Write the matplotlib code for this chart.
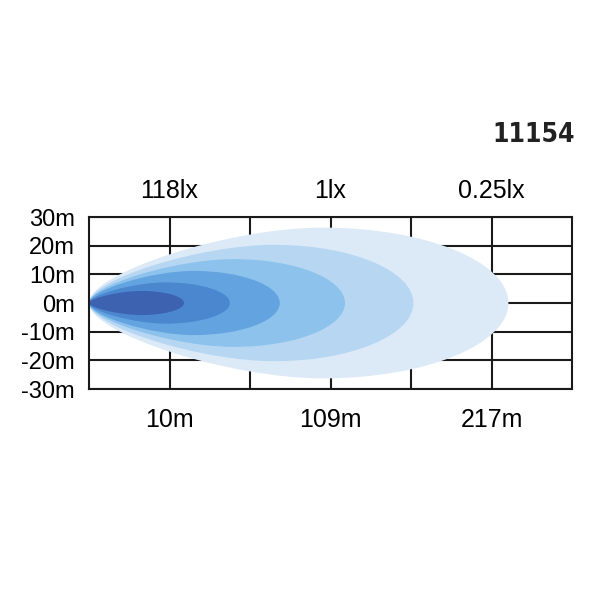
import matplotlib
matplotlib.use("Agg")
import matplotlib.pyplot as plt
from matplotlib.path import Path
from matplotlib.patches import PathPatch

# beam layers, outer to inner: reach (grid columns), max half width (m), where the max is (columns)
reach = [5.21, 4.03, 3.18, 2.37, 1.75, 1.18]
half_width = [26.3, 20.3, 15.3, 11.2, 7.2, 4.2]
widest_at = [2.9, 2.3, 1.8, 1.3, 0.95, 0.65]
colors = ["#dceaf8", "#b6d6f2", "#8cc2ec", "#63a4e0", "#4b87cf", "#3d63b0"]

y_ticks = [30, 20, 10, 0, -10, -20, -30]
y_labels = ["30m", "20m", "10m", "0m", "-10m", "-20m", "-30m"]
dist_pos = [1, 3, 5]
dist_labels = ["10m", "109m", "217m"]
lux_labels = ["118lx", "1lx", "0.25lx"]
code = "11154"

plt.rcParams['font.family'] = ['Liberation Sans', 'DejaVu Sans']

fig = plt.figure(figsize=(6, 6), dpi=100)
ax = fig.add_axes([89/600, 1 - 389/600, 483/600, 172/600])
ax.set_xlim(0, 6)
ax.set_ylim(-30, 30)


def beam(L, W, xm, color):
    a, b, k = 0.4, 0.6, 0.5523
    verts = [(0, 0),
             (0, a*W), (b*xm, W), (xm, W),
             (xm + k*(L - xm), W), (L, k*W), (L, 0),
             (L, -k*W), (xm + k*(L - xm), -W), (xm, -W),
             (b*xm, -W), (0, -a*W), (0, 0)]
    codes = [Path.MOVETO] + [Path.CURVE4]*12
    return PathPatch(Path(verts, codes), facecolor=color, edgecolor="none", zorder=3)


for L, W, xm, c in zip(reach, half_width, widest_at, colors):
    ax.add_patch(beam(L, W, xm, c))

ax.set_xticks(dist_pos)
ax.set_xticklabels(dist_labels, fontsize=18)
ax.set_xticks([2, 4], minor=True)
ax.set_yticks(y_ticks)
ax.set_yticklabels(y_labels, fontsize=17)
ax.tick_params(axis="x", which="both", length=0, pad=14)
ax.tick_params(axis="y", length=0, pad=10)
ax.grid(True, which="both", color="#1a1a1a", linewidth=1.5, zorder=1)
ax.set_axisbelow(True)
for s in ax.spines.values():
    s.set_linewidth(1.5)
    s.set_color("#1a1a1a")
    s.set_zorder(4)

top = ax.secondary_xaxis("top")
top.set_xticks(dist_pos)
top.set_xticklabels(lux_labels, fontsize=18)
top.tick_params(length=0, pad=10)
top.spines["top"].set_visible(False)

fig.text(575/600, 1 - 135/600, code, ha="right", va="center", fontsize=19,
         fontweight="bold", fontstretch="condensed",
         family=["Liberation Sans Narrow", "DejaVu Sans"], color="#222222")

fig.savefig("out.png", dpi=100)
